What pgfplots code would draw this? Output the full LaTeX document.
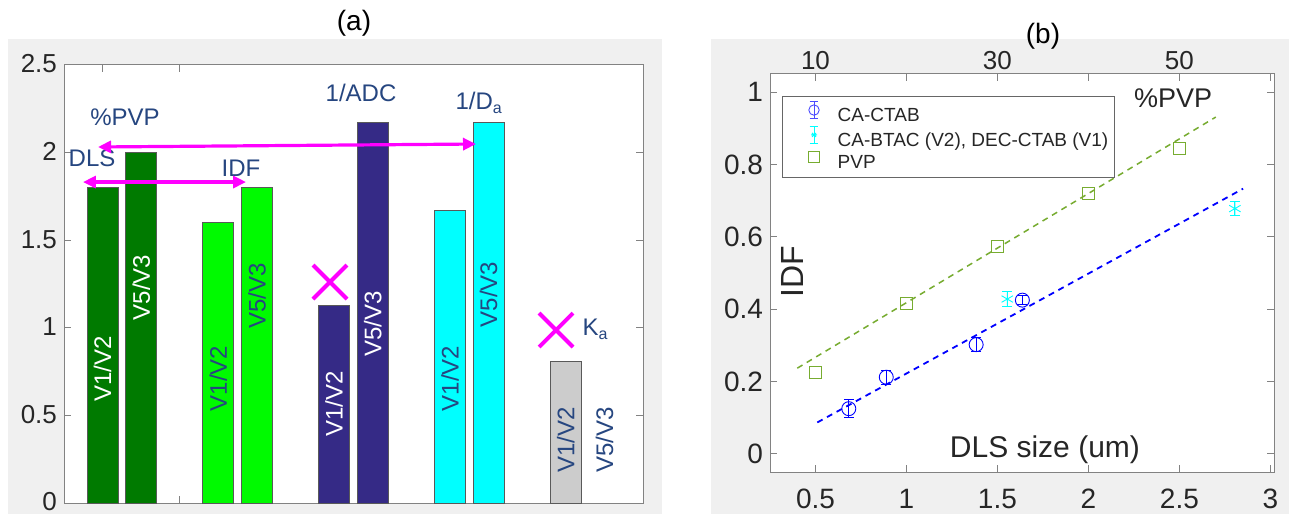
\documentclass[border=0pt]{standalone}
\usepackage{pgfplots}
\pgfplotsset{compat=1.18}
\usepackage{fontspec}
\setmainfont{Liberation Sans}
\usetikzlibrary{arrows.meta}
\definecolor{figbg}{RGB}{240,240,240}
\definecolor{dgreen}{RGB}{0,122,0}
\definecolor{lgreen}{RGB}{0,250,0}
\definecolor{navy}{RGB}{53,42,134}
\definecolor{cyanb}{RGB}{0,255,255}
\definecolor{grayb}{RGB}{204,204,204}
\definecolor{txtblue}{RGB}{38,70,128}
\definecolor{mag}{RGB}{255,0,255}
\definecolor{pvpgreen}{RGB}{119,172,48}
\definecolor{axgray}{RGB}{130,130,130}
\definecolor{ticktxt}{RGB}{38,38,38}
\newcommand{\fs}[1]{\fontsize{#1}{#1}\selectfont}
\begin{document}
\begin{tikzpicture}
\path[use as bounding box] (0,0) rectangle (644.5pt,257pt);
\fill[figbg] (4pt,0pt) rectangle (331pt,237.5pt);
\fill[figbg] (355.5pt,0pt) rectangle (644.5pt,237.5pt);
\node[font=\fs{14}, text=black] at (177pt,245.5pt) {(a)};
\node[font=\fs{14}, text=black] at (521.5pt,239pt) {(b)};
% ---------------- left panel
\begin{axis}[at={(32pt,5.5pt)}, anchor=south west, scale only axis,
  width=289.5pt, height=219pt,
  xmin=0.5, xmax=5.5, ymin=0, ymax=2.5,
  xtick={0.833,1.5}, xticklabel=\empty,
  ytick={0,0.5,1,1.5,2,2.5},
  tick align=inside, major tick length=3.5pt,
  axis background/.style={fill=white},
  axis line style={axgray, line width=0.5pt},
  every tick/.style={axgray, line width=0.5pt},
  ticklabel style={font=\fs{13}, text=ticktxt},
  yticklabel style={yshift=0.5pt},
  /pgf/number format/assume math mode=true,
  clip=false]
\addplot[ybar, bar width=0.268, bar shift=0pt, fill=dgreen, draw=black!65, line width=0.5pt] coordinates {(0.833,1.8) (1.167,2.0)};
\addplot[ybar, bar width=0.268, bar shift=0pt, fill=lgreen, draw=black!65, line width=0.5pt] coordinates {(1.833,1.6) (2.167,1.8)};
\addplot[ybar, bar width=0.268, bar shift=0pt, fill=navy, draw=black!65, line width=0.5pt] coordinates {(2.833,1.13) (3.167,2.17)};
\addplot[ybar, bar width=0.268, bar shift=0pt, fill=cyanb, draw=black!65, line width=0.5pt] coordinates {(3.833,1.67) (4.167,2.17)};
\addplot[ybar, bar width=0.268, bar shift=0pt, fill=grayb, draw=black!65, line width=0.5pt] coordinates {(4.833,0.81)};
\addplot[only marks, mark=x, mark size=12pt, mag, line width=2pt] coordinates {(2.797,1.261) (4.749,0.987)};
% labels in bars
\tikzset{vlab/.style={rotate=90, font=\fs{12}, inner sep=0pt}}
\node[vlab, text=white] at (axis cs:0.833,0.765) {V1/V2};
\node[vlab, text=white] at (axis cs:1.167,1.23) {V5/V3};
\node[vlab, text=txtblue] at (axis cs:1.833,0.71) {V1/V2};
\node[vlab, text=txtblue] at (axis cs:2.167,1.18) {V5/V3};
\node[vlab, text=white] at (axis cs:2.833,0.565) {V1/V2};
\node[vlab, text=white] at (axis cs:3.167,1.02) {V5/V3};
\node[vlab, text=txtblue] at (axis cs:3.833,0.71) {V1/V2};
\node[vlab, text=txtblue] at (axis cs:4.167,1.19) {V5/V3};
\node[vlab, text=txtblue] at (axis cs:4.833,0.36) {V1/V2};
\node[vlab, text=txtblue] at (axis cs:5.167,0.36) {V5/V3};
% annotations
\tikzset{alab/.style={font=\fs{12}, text=txtblue, inner sep=0pt}}
\node[alab] at (axis cs:1.027,2.203) {\%PVP};
\node[alab] at (axis cs:0.742,1.969) {DLS};
\node[alab] at (axis cs:2.028,1.912) {IDF};
\node[alab] at (axis cs:3.065,2.340) {1/ADC};
\node[alab] at (axis cs:4.085,2.283) {1/D\textsubscript{a}};
\node[alab] at (axis cs:5.09,0.99) {K\textsubscript{a}};
\draw[mag, line width=1.6pt, {Triangle[length=6.5pt,width=6pt]}-{Triangle[length=6.5pt,width=6pt]}] (axis cs:0.794,2.032) -- (axis cs:4.058,2.049);
\draw[mag, line width=1.6pt, {Triangle[length=6.5pt,width=6pt]}-{Triangle[length=6.5pt,width=6pt]}] (axis cs:0.664,1.832) -- (axis cs:2.072,1.832);
\end{axis}
% ---------------- right panel
\begin{axis}[at={(385pt,21pt)}, anchor=south west, scale only axis,
  width=252pt, height=199pt,
  xmin=0.25, xmax=3.02, ymin=-0.05, ymax=1.05,
  xtick={0.5,1,1.5,2,2.5,3},
  ytick={0,0.2,0.4,0.6,0.8,1},
  tick align=inside, major tick length=3.5pt,
  axis background/.style={fill=white},
  axis line style={axgray, line width=0.5pt},
  every tick/.style={axgray, line width=0.5pt},
  ticklabel style={font=\fs{14}, text=ticktxt},
  xticklabel style={yshift=-5pt},
  /pgf/number format/assume math mode=true,
  clip=false,
  legend cell align=left,
  legend style={at={(0.0238,0.945)}, anchor=north west, draw=black!60, line width=0.5pt, fill=white,
    inner xsep=0pt, inner ysep=2.3pt, row sep=0pt, column sep=0pt,
    nodes={inner xsep=3.1pt, inner ysep=0pt, text height=7.2pt, text depth=2pt, font=\fs{9.5}, text=ticktxt}},
  ]
\addplot[forget plot, pvpgreen, line width=0.75pt, dash pattern=on 3pt off 2.5pt] coordinates {(0.40,0.237) (2.70,0.931)};
\addplot[forget plot, blue, line width=0.9pt, dash pattern=on 3pt off 2.5pt] coordinates {(0.51,0.087) (2.85,0.733)};
\addplot[blue, only marks, mark=o, mark size=3.5pt, line width=0.45pt,
  error bars/.cd, y dir=both, y explicit,
  error bar style={blue, line width=0.45pt}, error mark options={blue, rotate=90, mark size=2.5pt, line width=0.45pt},
  /pgfplots/legend image code/.code={
    \path (-15.5pt,0pt) (8.5pt,0pt);
    \draw[blue!70, line width=0.45pt] (0pt,-1pt) -- (0pt,7.6pt) (-2.2pt,-1pt)--(2.2pt,-1pt) (-2.2pt,7.6pt)--(2.2pt,7.6pt);
    \draw[blue!70, line width=0.45pt] (0pt,3.3pt) circle (2.6pt);}]
  coordinates {(0.683,0.125) +- (0,0.025) (0.889,0.212) +- (0,0.02) (1.383,0.302) +- (0,0.02) (1.637,0.425) +- (0,0.013)};
\addlegendentry{CA-CTAB}
\addplot[cyanb, only marks, mark=asterisk, mark size=3.3pt, line width=0.45pt,
  error bars/.cd, y dir=both, y explicit,
  error bar style={cyanb, line width=0.45pt}, error mark options={cyanb, rotate=90, mark size=2.5pt, line width=0.45pt},
  /pgfplots/legend image code/.code={
    \path (-15.5pt,0pt) (8.5pt,0pt);
    \draw[cyanb, line width=0.45pt] (0pt,-1pt) -- (0pt,7.6pt) (-2.2pt,-1pt)--(2.2pt,-1pt) (-2.2pt,7.6pt)--(2.2pt,7.6pt);
    \draw[cyanb, line width=0.45pt] (-1.5pt,3.3pt)--(1.5pt,3.3pt) (-1pt,2.3pt)--(1pt,4.3pt) (-1pt,4.3pt)--(1pt,2.3pt);}]
  coordinates {(1.554,0.428) +- (0,0.02) (2.805,0.678) +- (0,0.02)};
\addlegendentry{CA-BTAC (V2), DEC-CTAB (V1)}
\addplot[pvpgreen, only marks, mark=square, mark size=3pt, line width=0.5pt,
  /pgfplots/legend image code/.code={
    \path (-15.5pt,0pt) (8.5pt,0pt);
    \draw[pvpgreen, line width=0.5pt] (-2.8pt,0.5pt) rectangle (2.8pt,6.1pt);}]
  coordinates {(0.5,0.225) (1.0,0.415) (1.5,0.573) (2.0,0.719) (2.5,0.845)};
\addlegendentry{PVP}
\node[font=\fs{13.5}, text=ticktxt, inner sep=0pt] at (axis cs:2.466,0.983) {\%PVP};
\node[font=\fs{15}, text=ticktxt, inner sep=0pt] at (axis cs:1.761,0.011) {DLS size (um)};
\node[font=\fs{16}, text=ticktxt, inner sep=0pt, rotate=90] at (axis cs:0.373,0.504) {IDF};
\end{axis}
\begin{axis}[at={(385pt,21pt)}, anchor=south west, scale only axis,
  width=252pt, height=199pt,
  xmin=0.25, xmax=3.02, ymin=-0.05, ymax=1.05,
  axis x line*=top, axis y line=none,
  axis line style={draw=none},
  xtick={0.5,1.5,2.5}, xticklabels={10,30,50},
  major tick length=0pt,
  ticklabel style={font=\fs{13}, text=ticktxt},
  xticklabel style={yshift=-1.3pt},
  /pgf/number format/assume math mode=true]
\addplot[draw=none, forget plot] coordinates {(1,0.5)};
\end{axis}
\end{tikzpicture}
\end{document}
